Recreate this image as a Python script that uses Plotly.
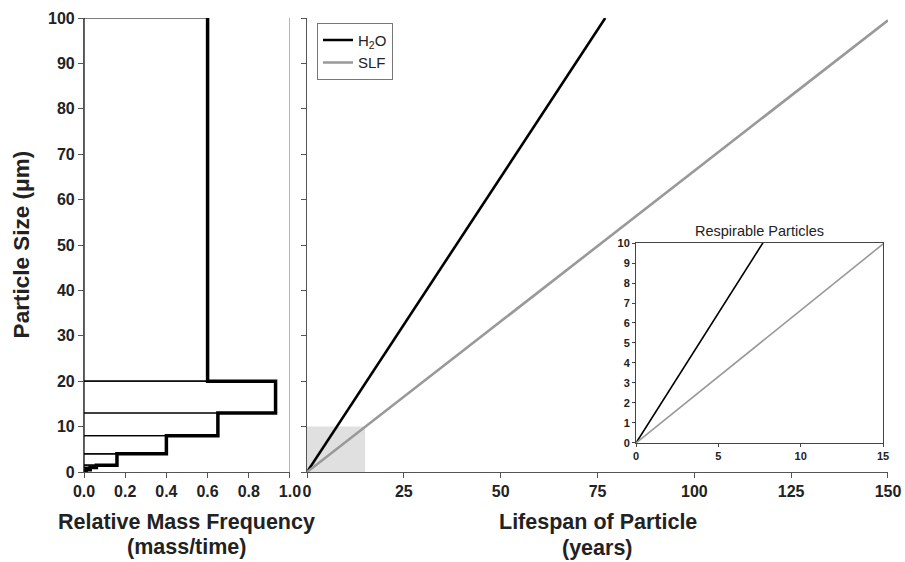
import plotly.graph_objects as go

# ---------------- data ----------------
bin_edges = [0, 0.5, 1, 1.5, 4, 8, 13, 20, 100]          # particle size (µm)
rel_mass_freq = [0.01, 0.03, 0.06, 0.16, 0.40, 0.65, 0.93, 0.60]

h2o_lifespan = [0, 77]
h2o_size = [0, 100]
slf_lifespan = [0, 150]
slf_size = [0, 99.5]

inset_x_range = [0, 15]
inset_y_range = [0, 10]

left_xticks = [0.0, 0.2, 0.4, 0.6, 0.8, 1.0]
right_xticks = [0, 25, 50, 75, 100, 125, 150]
size_ticks = list(range(0, 101, 10))
inset_xticks = [0, 5, 10, 15]
inset_yticks = list(range(0, 11))

FONT = "Arial, Liberation Sans, Helvetica, sans-serif"

fig = go.Figure()

# ---- histogram: thin rectangles per bin ----
rx, ry = [], []
for i, v in enumerate(rel_mass_freq):
    lo, hi = bin_edges[i], bin_edges[i + 1]
    rx += [0, v, v, 0, 0, None]
    ry += [lo, lo, hi, hi, lo, None]
fig.add_trace(go.Scatter(x=rx, y=ry, mode="lines", line=dict(color="black", width=1.2),
                         showlegend=False, hoverinfo="skip", xaxis="x", yaxis="y"))

# ---- thick outer step ----
sx, sy = [], []
for i in range(len(rel_mass_freq) - 1, -1, -1):
    v = rel_mass_freq[i]
    sx += [v, v]
    sy += [bin_edges[i + 1], bin_edges[i]]
fig.add_trace(go.Scatter(x=sx, y=sy, mode="lines", line=dict(color="black", width=3.5),
                         showlegend=False, hoverinfo="skip", xaxis="x", yaxis="y"))

# ---- main lines ----
fig.add_trace(go.Scatter(x=h2o_lifespan, y=h2o_size, mode="lines", name="H<sub>2</sub>O",
                         line=dict(color="black", width=2.6), xaxis="x2", yaxis="y2"))
fig.add_trace(go.Scatter(x=slf_lifespan, y=slf_size, mode="lines", name="SLF",
                         line=dict(color="#999999", width=2.6), xaxis="x2", yaxis="y2"))

# ---- inset lines ----
fig.add_trace(go.Scatter(x=h2o_lifespan, y=h2o_size, mode="lines", showlegend=False,
                         line=dict(color="black", width=1.6), xaxis="x3", yaxis="y3"))
fig.add_trace(go.Scatter(x=slf_lifespan, y=slf_size, mode="lines", showlegend=False,
                         line=dict(color="#999999", width=1.6), xaxis="x3", yaxis="y3"))

tickfont = dict(family=FONT, size=16, color="#222", weight="bold")
inset_tickfont = dict(family=FONT, size=11, color="#222", weight="bold")
axis_common = dict(showline=True, linecolor="#555", linewidth=1.2, ticks="outside",
                   ticklen=5, tickcolor="#555", showgrid=False, zeroline=False, automargin=False)
inset_axis = dict(showline=True, mirror=True, linecolor="#444", linewidth=1, ticks="outside",
                  ticklen=3, tickcolor="#444", showgrid=False, zeroline=False, automargin=False)

fig.update_layout(
    width=905, height=562,
    margin=dict(l=84, r=17, t=18, b=90),
    plot_bgcolor="white", paper_bgcolor="white",
    font=dict(family=FONT, color="#222"),
    xaxis=dict(domain=[0, 0.2562], range=[0, 1], tickvals=left_xticks, tickformat=".1f",
               tickfont=tickfont, anchor="y", **axis_common),
    yaxis=dict(domain=[0, 1], range=[0, 100], tickvals=size_ticks, tickfont=tickfont,
               anchor="x", **axis_common),
    xaxis2=dict(domain=[0.2774, 1], range=[0, 150], tickvals=right_xticks,
                tickfont=tickfont, anchor="y2", **axis_common),
    yaxis2=dict(domain=[0, 1], range=[0, 100], tickvals=size_ticks, showticklabels=False,
                anchor="x2", **axis_common),
    xaxis3=dict(domain=[0.6866, 0.9938], range=inset_x_range, tickvals=inset_xticks,
                tickfont=inset_tickfont, anchor="y3", **inset_axis),
    yaxis3=dict(domain=[0.0639, 0.5044], range=inset_y_range, tickvals=inset_yticks,
                tickfont=inset_tickfont, anchor="x3", **inset_axis),
    legend=dict(x=0.2898, y=0.9896, xanchor="left", yanchor="top", bgcolor="white",
                bordercolor="#777", borderwidth=1, font=dict(family=FONT, size=15, color="#222"),
                tracegroupgap=0),
    showlegend=True,
)

# shaded respirable region on main plot
fig.add_shape(type="rect", xref="x2", yref="y2", x0=inset_x_range[0], x1=inset_x_range[1],
              y0=inset_y_range[0], y1=inset_y_range[1], fillcolor="#e0e0e0",
              line=dict(width=0), layer="below")
# inset background
fig.add_shape(type="rect", xref="x3 domain", yref="y3 domain", x0=0, x1=1, y0=0, y1=1,
              fillcolor="#e0e0e0", line=dict(width=0), layer="below")
# right boundary line of left panel
fig.add_shape(type="line", xref="x", yref="y domain", x0=1, x1=1, y0=0, y1=1,
              line=dict(color="#888", width=1.2))

title_font = dict(family=FONT, size=21.5, color="#222", weight="bold")
fig.add_annotation(text="Particle Size (μm)", xref="paper", yref="paper", x=-0.078, y=0.502,
                   textangle=-90, showarrow=False, font=dict(family=FONT, size=22.5, color="#222", weight="bold"),
                   xanchor="center", yanchor="middle")
fig.add_annotation(text="Relative Mass Frequency", xref="paper", yref="paper", x=0.128, y=-0.1095,
                   showarrow=False, font=title_font, xanchor="center", yanchor="middle")
fig.add_annotation(text="(mass/time)", xref="paper", yref="paper", x=0.128, y=-0.1645,
                   showarrow=False, font=title_font, xanchor="center", yanchor="middle")
fig.add_annotation(text="Lifespan of Particle", xref="paper", yref="paper", x=0.6387, y=-0.1095,
                   showarrow=False, font=title_font, xanchor="center", yanchor="middle")
fig.add_annotation(text="(years)", xref="paper", yref="paper", x=0.6387, y=-0.1674,
                   showarrow=False, font=title_font, xanchor="center", yanchor="middle")
fig.add_annotation(text="Respirable Particles", xref="paper", yref="paper", x=0.8402, y=0.5305,
                   showarrow=False, font=dict(family=FONT, size=14.5, color="#222"),
                   xanchor="center", yanchor="middle")

fig.write_html("out.html", config={"displayModeBar": False},
               post_script="document.body.style.margin='0px';")
